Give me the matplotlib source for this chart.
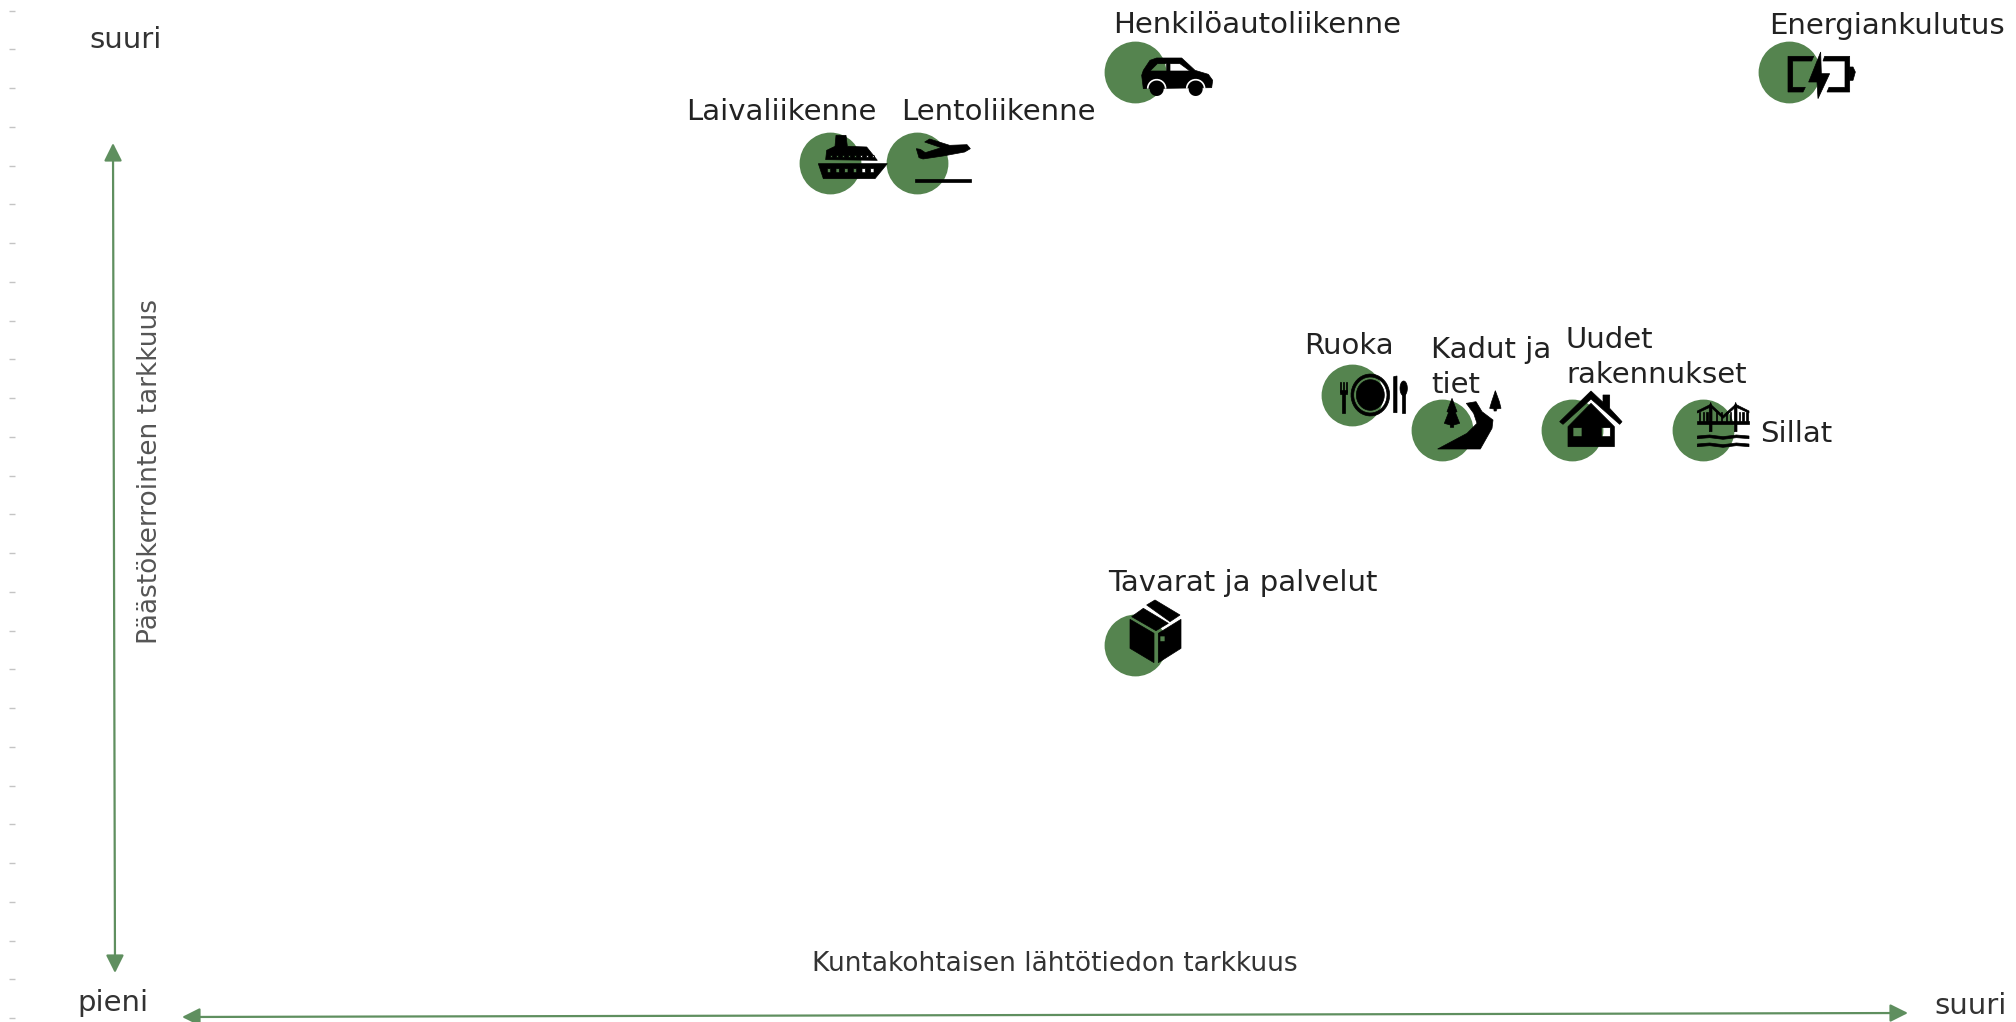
import numpy as np
import matplotlib
matplotlib.use('Agg')
import matplotlib.pyplot as plt
from matplotlib.path import Path
from matplotlib.patches import PathPatch
from matplotlib.transforms import Affine2D

# Values (both axes run in picture pixels)
names = ['car', 'ship', 'plane', 'battery', 'food', 'road', 'house', 'bridge', 'box']
x_values = [1135, 830, 917, 1789, 1352, 1442, 1572, 1703, 1135]
y_values = [72, 163, 163, 72, 395, 430, 430, 430, 645]
labels = ['Henkilöautoliikenne', 'Laivaliikenne', 'Lentoliikenne', 'Energiankulutus', 'Ruoka',
          'Kadut ja\ntiet', 'Uudet\nrakennukset', 'Sillat', 'Tavarat ja palvelut']
label_x = [1113, 686, 901, 1769, 1304, 1431, 1566, 1760, 1108]
label_y = [33, 120, 120, 34, 354, 358, 348, 442, 591]
y_ticks = np.arange(10.6, 1022, 38.75)

GREEN = '#55844f'
ARROW = '#5f8f5f'
FONT = 'DejaVu Sans'
SIZE = 21


def circle_pts(x, y, rx, ry=None):
    ry = rx if ry is None else ry
    t = np.linspace(0, 2 * np.pi, 40)[:-1]
    return np.column_stack([x + rx * np.cos(t), y + ry * np.sin(t)])


def rect(x0, y0, x1, y1):
    return [(x0, y0), (x1, y0), (x1, y1), (x0, y1)]


def shape(ax, cx, cy, zc, outer, holes=()):
    verts = []
    codes = []
    for i, ring in enumerate([outer] + list(holes)):
        ring = np.array(ring, dtype=float)
        x, y = ring[:, 0], ring[:, 1]
        area = np.sum(x * np.roll(y, -1) - np.roll(x, -1) * y)
        if (area > 0) != (i == 0):
            ring = ring[::-1]
        verts += list(ring) + [ring[0]]
        codes += [Path.MOVETO] + [Path.LINETO] * (len(ring) - 1) + [Path.CLOSEPOLY]
    tr = Affine2D().translate(-zc[0], -zc[1]).scale(1 / 3).translate(cx, cy)
    ax.add_patch(PathPatch(tr.transform_path(Path(verts, codes)), fc='black', ec='black', lw=0.5, zorder=3))


def draw_car(ax, cx, cy):
    z = (1125, 215)
    tr = Affine2D().translate(-z[0], -z[1]).scale(1 / 3).translate(cx, cy)
    body = [(1145, 225), (1150, 210), (1170, 180), (1190, 173), (1265, 173), (1305, 210),
            (1345, 222), (1358, 240), (1355, 262), (1150, 265)]
    windows = [[(1170, 212), (1192, 190), (1220, 190), (1220, 212)],
               [(1230, 190), (1260, 190), (1290, 212), (1230, 212)]]
    shape(ax, cx, cy, z, body, windows)
    for x in (1190, 1307):
        # white gap round the wheel, then the wheel
        t = np.linspace(np.pi, 2 * np.pi, 16)
        arc = np.column_stack([x + 27 * np.cos(t), 265 + 27 * np.sin(t)])
        ax.add_patch(PathPatch(tr.transform_path(Path(arc)), fc='none', ec='white', lw=1.2, zorder=3.5))
        ring = circle_pts(x, 266, 21)
        ax.add_patch(PathPatch(tr.transform_path(Path(np.vstack([ring, ring[:1]]), closed=True)),
                               fc='black', ec='none', zorder=4))


def draw_ship(ax, cx, cy):
    z = (210, 488)
    hull = [(175, 490), (382, 490), (345, 535), (190, 535)]
    hull_holes = [rect(x, 505, x + 10, 517) for x in range(202, 340, 26)]
    top = [(197, 478), (200, 450), (225, 438), (228, 405), (258, 405), (262, 438), (320, 440), (352, 480)]
    top_holes = [rect(x, 466, x + 5, 471) for x in range(212, 345, 18)]
    shape(ax, cx, cy, z, hull, hull_holes)
    shape(ax, cx, cy, z, top, top_holes)


def draw_plane(ax, cx, cy):
    z = (472, 488)
    shape(ax, cx, cy, z, [(470, 445), (482, 447), (497, 457), (545, 442), (495, 425), (510, 416),
                          (570, 435), (622, 433), (632, 445), (615, 455), (550, 467), (490, 476), (478, 472)])
    shape(ax, cx, cy, z, rect(467, 536, 634, 546))


def draw_battery(ax, cx, cy):
    z = (148, 215)
    shape(ax, cx, cy, z, [(145, 168), (222, 168), (216, 182), (159, 182), (159, 261), (197, 261), (190, 275), (145, 275)])
    shape(ax, cx, cy, z, [(255, 168), (330, 168), (330, 275), (262, 275), (268, 261), (316, 261), (316, 182), (250, 182)])
    shape(ax, cx, cy, z, [(330, 200), (340, 200), (347, 215), (340, 240), (330, 240)])
    shape(ax, cx, cy, z, [(243, 155), (207, 245), (232, 245), (235, 295), (270, 220), (245, 220)])


def draw_food(ax, cx, cy):
    z = (125, 75)
    shape(ax, cx, cy, z, circle_pts(180, 75, 58, 63), [circle_pts(180, 75, 50, 54)])
    shape(ax, cx, cy, z, circle_pts(180, 75, 42, 46))
    for x in (90, 99, 108):
        shape(ax, cx, cy, z, rect(x - 2, 35, x + 2, 65))
    shape(ax, cx, cy, z, rect(88, 60, 110, 72))
    shape(ax, cx, cy, z, rect(95, 68, 105, 130))
    shape(ax, cx, cy, z, [(250, 20), (260, 18), (260, 128), (250, 128)])
    shape(ax, cx, cy, z, circle_pts(280, 55, 11, 22))
    shape(ax, cx, cy, z, rect(275, 70, 285, 128))


def draw_road(ax, cx, cy):
    z = (395, 180)
    shape(ax, cx, cy, z, [(382, 237), (470, 190), (500, 160), (490, 130), (468, 100), (497, 95),
                          (515, 125), (548, 150), (545, 175), (510, 237)])
    shape(ax, cx, cy, z, [(425, 85), (440, 125), (435, 127), (448, 160), (430, 165), (430, 172), (420, 172),
                          (420, 165), (402, 160), (415, 127), (410, 125)])
    shape(ax, cx, cy, z, [(555, 62), (567, 95), (572, 115), (558, 117), (558, 123), (551, 123),
                          (551, 117), (538, 115), (544, 95)])


def draw_house(ax, cx, cy):
    z = (155, 165)
    shape(ax, cx, cy, z, [(118, 140), (212, 48), (248, 82), (248, 60), (268, 60), (268, 100), (305, 140),
                          (298, 148), (212, 72), (128, 148)])
    shape(ax, cx, cy, z, [(143, 215), (143, 155), (212, 85), (282, 155), (282, 215)],
          [rect(158, 158, 185, 185), rect(243, 158, 270, 185)])


def draw_bridge(ax, cx, cy):
    z = (550, 165)
    shape(ax, cx, cy, z, rect(533, 137, 688, 148))
    for x in (573, 648):
        shape(ax, cx, cy, z, [(x - 4, 95), (x, 82), (x + 4, 95), (x + 4, 170), (x - 4, 170)])
    for x in (540, 552, 562, 590, 605, 620, 632, 660, 670, 682):
        shape(ax, cx, cy, z, rect(x - 2, 112, x + 2, 138))
    # main cables
    shape(ax, cx, cy, z, [(533, 108), (573, 88), (610, 122), (648, 88), (688, 108), (688, 114), (648, 96),
                          (610, 130), (573, 96), (533, 114)])
    for y in (183, 207):
        shape(ax, cx, cy, z, [(533, y), (570, y - 3), (610, y + 2), (650, y - 3), (688, y),
                              (688, y + 8), (650, y + 5), (610, y + 10), (570, y + 5), (533, y + 8)])


def draw_box(ax, cx, cy):
    z = (165, 165)
    shape(ax, cx, cy, z, [(150, 88), (222, 130), (222, 218), (150, 175)])
    shape(ax, cx, cy, z, [(235, 130), (303, 88), (303, 175), (235, 218)], [rect(240, 138, 255, 155)])
    shape(ax, cx, cy, z, [(155, 80), (190, 55), (265, 100), (228, 122)])
    shape(ax, cx, cy, z, [(200, 45), (225, 30), (300, 75), (270, 95)])


icons = {'car': draw_car, 'ship': draw_ship, 'plane': draw_plane, 'battery': draw_battery, 'food': draw_food,
         'road': draw_road, 'house': draw_house, 'bridge': draw_bridge, 'box': draw_box}

fig = plt.figure(figsize=(20.16, 10.22), dpi=100)
ax = fig.add_axes([15 / 2016, 0, 2001 / 2016, 1])
ax.set_xlim(15, 2016)
ax.set_ylim(1022, 0)
for spine in ax.spines.values():
    spine.set_visible(False)
ax.set_xticks([])
ax.set_yticks(y_ticks)
ax.set_yticklabels([])
ax.tick_params(axis='y', length=4, width=1, color='#c4c4c4')

# Circles and their icons
ax.scatter(x_values, y_values, s=1980, color=GREEN, linewidths=0, zorder=2)
for name, x, y in zip(names, x_values, y_values):
    icons[name](ax, x, y)

# Labels
for text, x, y in zip(labels, label_x, label_y):
    for i, line in enumerate(text.split('\n')):
        ax.text(x, y + i * 35, line, family=FONT, fontsize=SIZE, color='#222222', va='baseline', ha='left', zorder=4)

ax.text(126, 48, 'suuri', family=FONT, fontsize=SIZE, color='#333333', ha='center', va='baseline')
ax.text(113, 1011, 'pieni', family=FONT, fontsize=SIZE, color='#333333', ha='center', va='baseline')
ax.text(1971, 1014, 'suuri', family=FONT, fontsize=SIZE, color='#333333', ha='center', va='baseline')
ax.text(1055, 971, 'Kuntakohtaisen lähtötiedon tarkkuus', family=FONT, fontsize=19, color='#333333',
        ha='center', va='baseline')
ax.text(150, 472, 'Päästökerrointen tarkkuus', family=FONT, fontsize=19, color='#555555', rotation=90,
        ha='center', va='center')

# Axis arrows
head = '<|-|>,head_length=0.6,head_width=0.3'
ax.annotate('', xy=(113, 143), xytext=(115, 973),
            arrowprops=dict(arrowstyle=head, color=ARROW, lw=1.6, shrinkA=0, shrinkB=0, mutation_scale=18))
ax.annotate('', xy=(182, 1017), xytext=(1908, 1013),
            arrowprops=dict(arrowstyle=head, color=ARROW, lw=1.6, shrinkA=0, shrinkB=0, mutation_scale=18))

fig.savefig('out.png', dpi=100)
